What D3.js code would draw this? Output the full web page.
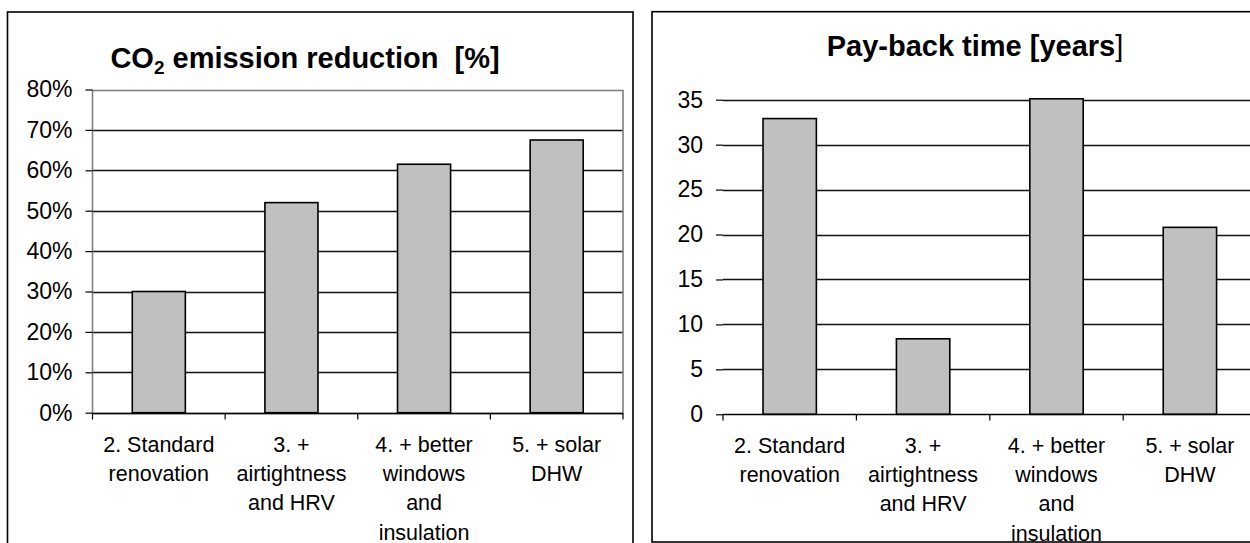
<!DOCTYPE html>
<html>
<head>
<meta charset="utf-8">
<script src="https://cdn.jsdelivr.net/npm/d3@7/dist/d3.min.js"></script>
<style>
  html, body { margin: 0; padding: 0; background: #ffffff; }
  svg { display: block; }
  text { font-family: "Liberation Sans", Arial, sans-serif; fill: #000; }
</style>
</head>
<body>
<svg id="chart" width="1250" height="543"></svg>
<script>
// Renovation steps shown on both charts (one entry per text line)
const categories = [
  ["2. Standard", "renovation"],
  ["3. +", "airtightness", "and HRV"],
  ["4. + better", "windows", "and", "insulation"],
  ["5. + solar", "DHW"]
];

// CO2 emission reduction (fraction) per step
const co2Reduction = [0.30, 0.52, 0.615, 0.675];
// Pay-back time in years per step
const paybackYears = [32.9, 8.4, 35.1, 20.8];

// Axis tick values and labels
const co2Ticks = [0, 0.1, 0.2, 0.3, 0.4, 0.5, 0.6, 0.7, 0.8];
const co2TickLabels = ["0%", "10%", "20%", "30%", "40%", "50%", "60%", "70%", "80%"];
const paybackTicks = [0, 5, 10, 15, 20, 25, 30, 35];
const paybackTickLabels = ["0", "5", "10", "15", "20", "25", "30", "35"];

const svg = d3.select("#chart");

function drawPanel(cfg) {
  const g = svg.append("g");

  // chart frame
  g.append("rect")
    .attr("x", cfg.frame.x).attr("y", cfg.frame.y)
    .attr("width", cfg.frame.w).attr("height", cfg.frame.h)
    .attr("fill", "#fff").attr("stroke", "#000").attr("stroke-width", 1.6);

  const x = d3.scaleBand()
    .domain(d3.range(categories.length))
    .range([cfg.plot.left, cfg.plot.right])
    .paddingInner(0.6).paddingOuter(0.3);
  const step = x.step();

  const y = d3.scaleLinear().domain(cfg.domain).range([cfg.plot.bottom, cfg.plot.top]);

  // horizontal gridlines
  const gridTicks = cfg.ticks.filter(t => t > cfg.domain[0] && (t < cfg.domain[1] || !cfg.frameBorder));
  g.append("g").selectAll("line")
    .data(gridTicks)
    .join("line")
    .attr("x1", cfg.plot.left).attr("x2", cfg.plot.right)
    .attr("y1", d => Math.round(y(d)) + 0.5).attr("y2", d => Math.round(y(d)) + 0.5)
    .attr("stroke", "#111").attr("stroke-width", 1.3);

  // plot area border (gray)
  if (cfg.frameBorder) {
    g.append("rect")
      .attr("x", cfg.plot.left).attr("y", Math.round(y(cfg.domain[1])) + 0.5)
      .attr("width", cfg.plot.right - cfg.plot.left)
      .attr("height", Math.round(y(0)) - Math.round(y(cfg.domain[1])))
      .attr("fill", "none").attr("stroke", "#808080").attr("stroke-width", 1.6);
  }

  // bars
  g.append("g").selectAll("rect")
    .data(cfg.values)
    .join("rect")
    .attr("x", (d, i) => x(i))
    .attr("y", d => y(d))
    .attr("width", x.bandwidth())
    .attr("height", d => y(0) - y(d))
    .attr("fill", "#c0c0c0").attr("stroke", "#000").attr("stroke-width", 1.6);

  // y axis: outside tick marks + labels
  const yAxis = d3.axisLeft(y)
    .tickValues(cfg.ticks)
    .tickFormat((d, i) => cfg.tickLabels[i])
    .tickSizeInner(7).tickSizeOuter(0).tickPadding(13);
  const ya = g.append("g").attr("transform", `translate(${cfg.plot.left},0)`).call(yAxis);
  ya.select(".domain").remove();
  ya.selectAll(".tick line").attr("stroke", "#000").attr("stroke-width", 1.2);
  ya.selectAll(".tick text")
    .attr("font-family", "Liberation Sans, Arial, sans-serif")
    .attr("font-size", 23).attr("fill", "#000");

  // category baseline with boundary ticks
  const zeroY = Math.round(y(0)) + 0.5;
  g.append("line")
    .attr("x1", cfg.plot.left).attr("x2", cfg.plot.right)
    .attr("y1", zeroY).attr("y2", zeroY)
    .attr("stroke", "#000").attr("stroke-width", 1.4);
  g.append("g").selectAll("line")
    .data(d3.range(categories.length + 1))
    .join("line")
    .attr("x1", i => cfg.plot.left + i * step)
    .attr("x2", i => cfg.plot.left + i * step)
    .attr("y1", zeroY).attr("y2", zeroY + 6)
    .attr("stroke", "#000").attr("stroke-width", 1.2);

  // category labels
  const labels = g.append("g");
  categories.forEach((lines, i) => {
    const cx = x(i) + x.bandwidth() / 2;
    const t = labels.append("text")
      .attr("x", cx)
      .attr("y", zeroY + 38.5)
      .attr("text-anchor", "middle")
      .attr("font-size", 21.5);
    lines.forEach((ln, k) => {
      t.append("tspan")
        .attr("x", cx)
        .attr("dy", k === 0 ? 0 : 29.2)
        .text(ln);
    });
  });

  // title
  cfg.title(g);
}

// left chart: CO2 emission reduction
drawPanel({
  frame: { x: 7.5, y: 12, w: 625.5, h: 560 },
  plot: { left: 92.5, right: 623, top: 89.5, bottom: 412.7 },
  domain: [0, 0.8],
  ticks: co2Ticks,
  tickLabels: co2TickLabels,
  values: co2Reduction,
  frameBorder: true,
  title: g => {
    const t = g.append("text")
      .attr("x", 305).attr("y", 68)
      .attr("text-anchor", "middle")
      .attr("font-size", 29).attr("font-weight", "bold");
    t.append("tspan").text("CO");
    t.append("tspan").attr("font-size", 19).attr("dy", 6).text("2");
    t.append("tspan").attr("dy", -6).text(" emission reduction \u00a0[%]");
  }
});

// right chart: pay-back time
drawPanel({
  frame: { x: 652, y: 11.7, w: 640, h: 530.3 },
  plot: { left: 723, right: 723 + 4 * 133.4, top: 99.7, bottom: 414.3 },
  domain: [0, 35],
  ticks: paybackTicks,
  tickLabels: paybackTickLabels,
  values: paybackYears,
  frameBorder: false,
  title: g => {
    const t = g.append("text")
      .attr("x", 975).attr("y", 56)
      .attr("text-anchor", "middle")
      .attr("font-size", 29).attr("font-weight", "bold");
    t.append("tspan").text("Pay-back time [years");
    t.append("tspan").attr("font-weight", "normal").text("]");
  }
});
</script>
</body>
</html>
